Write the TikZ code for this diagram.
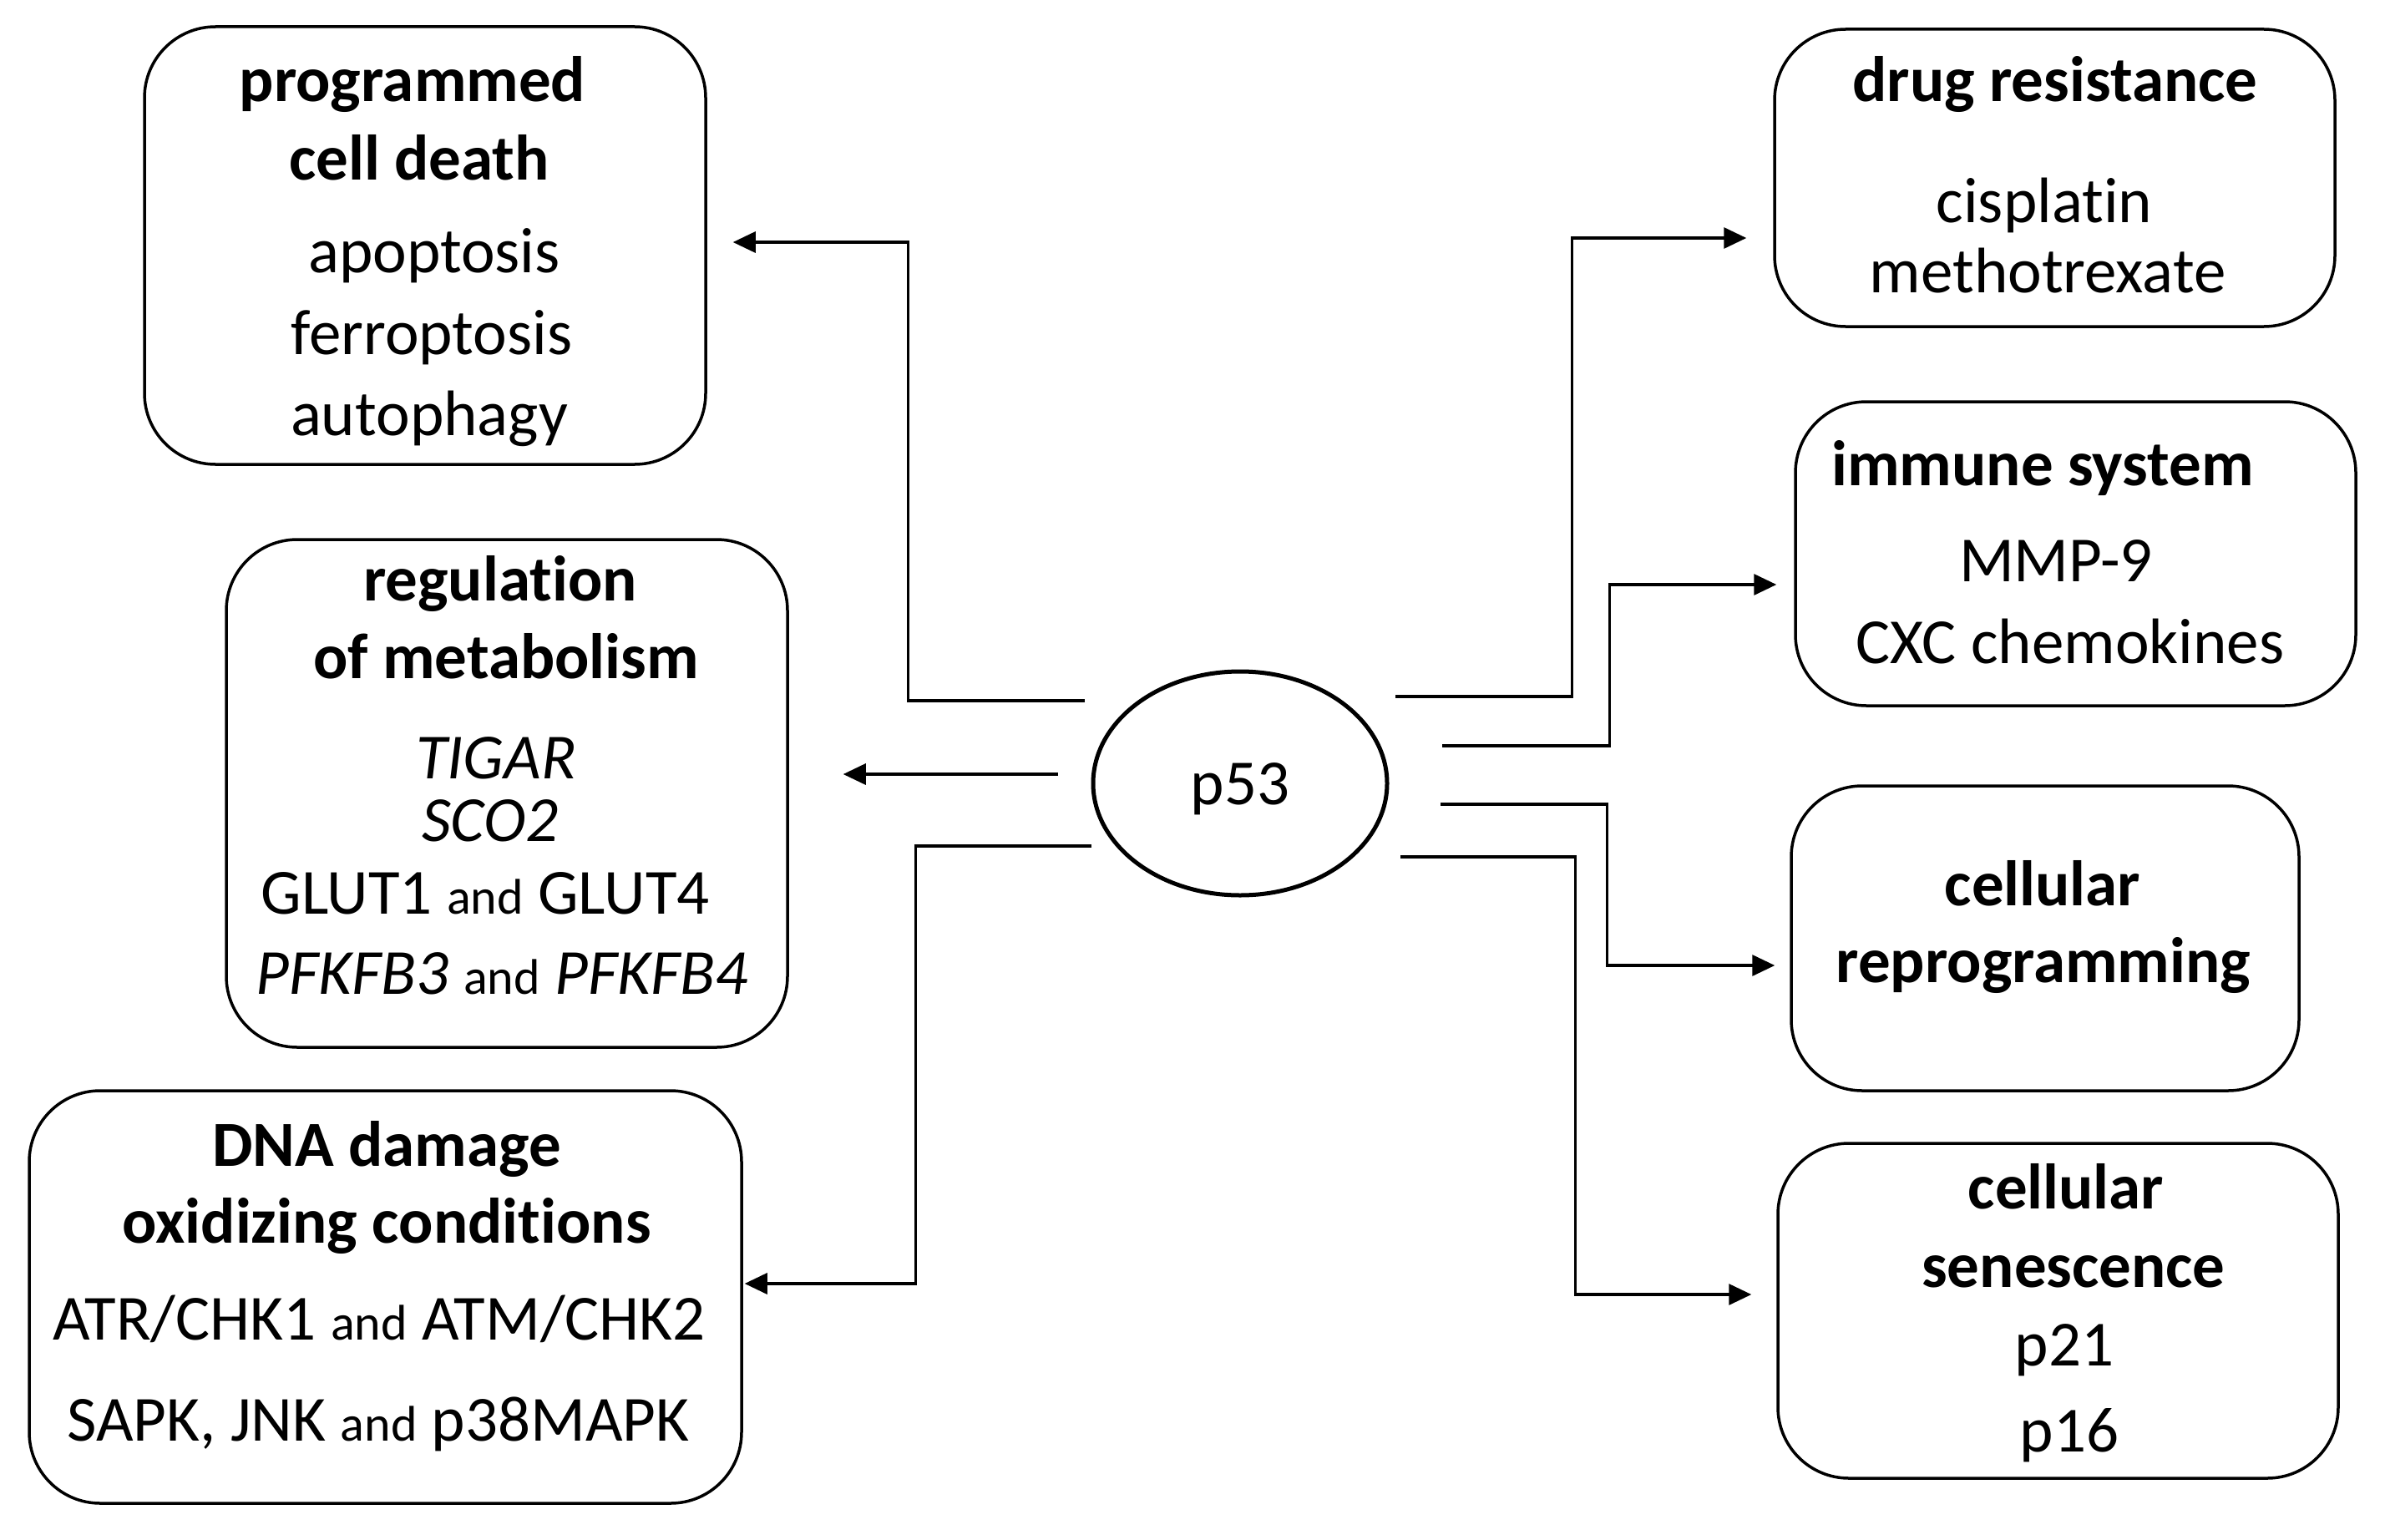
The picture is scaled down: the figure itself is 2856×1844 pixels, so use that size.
\documentclass[tikz,border=0pt]{standalone}
\usepackage{fontspec}
\setmainfont{Carlito}[Ligatures={NoCommon,TeX}]
\usetikzlibrary{shapes.geometric,arrows.meta,calc}
\newcommand\andsz{\fontsize{60}{70}\selectfont}
\begin{document}
\begin{tikzpicture}[x=1pt,y=-1pt,
  box/.style={draw, line width=3.5pt, rounded corners=85pt, inner sep=0pt},
  hd/.style={anchor=base, inner sep=0pt, font=\fontsize{77}{92}\selectfont\bfseries},
  tx/.style={anchor=base, inner sep=0pt, font=\fontsize{77}{92}\selectfont},
  arr/.style={line width=3.2pt, -{Triangle[length=27pt,width=25pt]}}]
\useasboundingbox (0,0) rectangle (2856,1844);
% p53
\node[draw, ellipse, line width=5pt, minimum width=352pt, minimum height=268pt, inner sep=0pt] (p53) at (1485,938) {};
\node[tx] (p53t) at (1485,963) {p53};
% boxes
\node[box, minimum width=672pt, minimum height=524pt] (pcd) at (509,294) {};
\node[box, minimum width=672pt, minimum height=608pt] (met) at (607,950) {};
\node[box, minimum width=853pt, minimum height=494pt] (dna) at (461.5,1553) {};
\node[box, minimum width=671pt, minimum height=356pt] (drug) at (2460.5,213) {};
\node[box, minimum width=671pt, minimum height=364pt] (imm) at (2485.5,663) {};
\node[box, minimum width=608pt, minimum height=365pt] (rep) at (2449,1123.5) {};
\node[box, minimum width=671pt, minimum height=401pt] (sen) at (2464.5,1569.5) {};
% texts
\node[hd] (pcd1) at (494,121) {programmed};
\node[hd] (pcd2) at (502,215) {cell death};
\node[tx] (pcd3) at (520,326) {apoptosis};
\node[tx] (pcd4) at (517,424) {ferroptosis};
\node[tx] (pcd5) at (514,521) {autophagy};
\node[hd] (met1) at (599,719) {regulation};
\node[hd] (met2) at (606,812) {of metabolism};
\node[tx] (met3) at (594,932) {\itshape TIGAR};
\node[tx] (met4) at (587,1007) {\itshape SCO2};
\node[tx] (met5) at (581,1094) {GLUT1 {\andsz and} GLUT4};
\node[tx] (met6) at (601,1190) {\textit{PFKFB3} {\andsz and} \textit{PFKFB4}};
\node[hd] (dna1) at (463,1396) {DNA damage};
\node[hd] (dna2) at (463,1488) {oxidizing conditions};
\node[tx] (dna3) at (454,1604) {ATR/CHK1 {\andsz and} ATM/CHK2};
\node[tx] (dna4) at (453,1725) {SAPK, JNK {\andsz and} p38MAPK};
\node[hd] (drug1) at (2461,121) {drug resistance};
\node[tx] (drug2) at (2448,266) {cisplatin};
\node[tx] (drug3) at (2452,350) {methotrexate};
\node[hd] (imm1) at (2446,581) {immune system};
\node[tx] (imm2) at (2462,696) {MMP-9};
\node[tx] (imm3) at (2479,794) {CXC chemokines};
\node[hd] (rep1) at (2446,1084) {cellular};
\node[hd] (rep2) at (2447,1176) {reprogramming};
\node[hd] (sen1) at (2474,1447) {cellular};
\node[hd] (sen2) at (2483,1541) {senescence};
\node[tx] (sen3) at (2472,1635) {p21};
\node[tx] (sen4) at (2478,1738) {p16};
% connector start points
\coordinate (sPcd) at (1299,839);
\coordinate (sMet) at (1267,927);
\coordinate (sDna) at (1307,1013);
\coordinate (sDrug) at (1671,834);
\coordinate (sImm) at (1727,893);
\coordinate (sRep) at (1725,963);
\coordinate (sSen) at (1677,1026);
% connectors
\draw[arr] (sPcd) -| ($(pcd.east)+(241,-4)$) -- ($(pcd.east)+(31,-4)$);
\draw[arr] (sMet) -- ($(met.east)+(65,-23)$);
\draw[arr] (sDna) -| ($(dna.east)+(207,-16)$) -- ($(dna.east)+(2,-16)$);
\draw[arr] (sDrug) -| ($(drug.west)+(-241,72)$) -- ($(drug.west)+(-32,72)$);
\draw[arr] (sImm) -| ($(imm.west)+(-221,37)$) -- ($(imm.west)+(-21,37)$);
\draw[arr] (sRep) -| ($(rep.west)+(-219,32.5)$) -- ($(rep.west)+(-18,32.5)$);
\draw[arr] (sSen) -| ($(sen.west)+(-241,-19.5)$) -- ($(sen.west)+(-30,-19.5)$);
\end{tikzpicture}
\end{document}
